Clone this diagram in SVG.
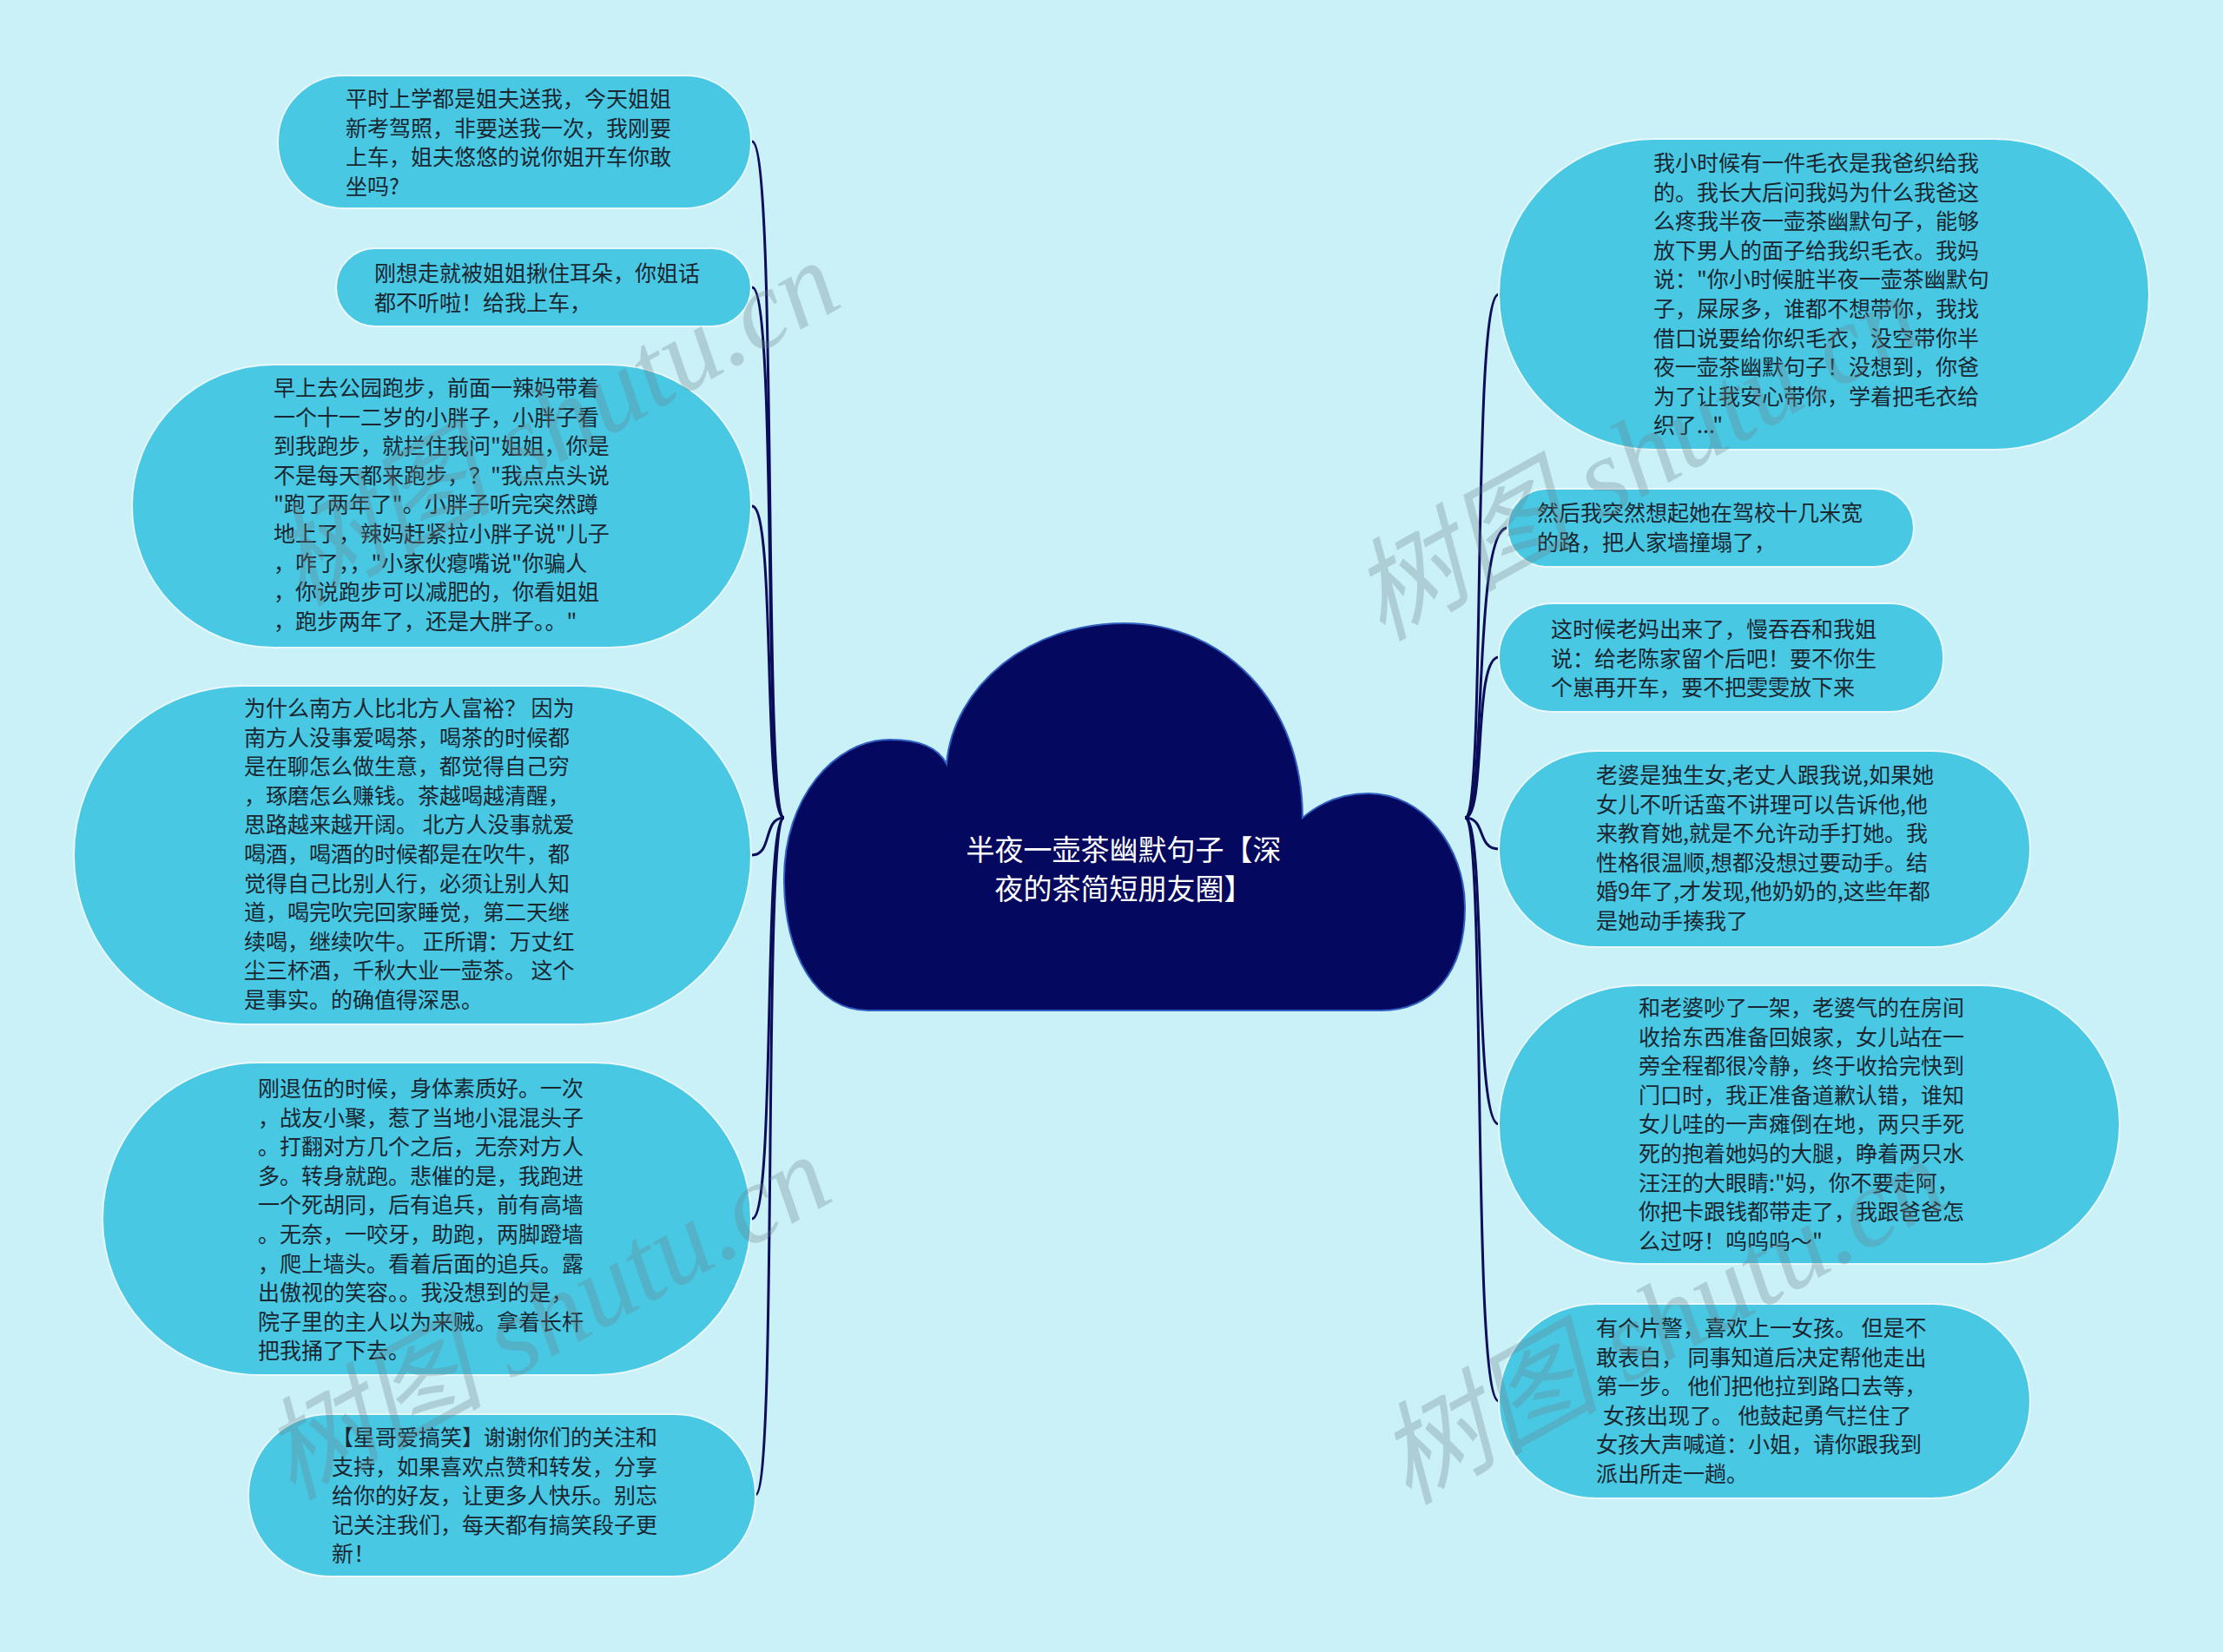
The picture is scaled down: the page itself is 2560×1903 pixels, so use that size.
<svg xmlns="http://www.w3.org/2000/svg" width="2560" height="1903" viewBox="0 0 2560 1903">
<style>
.n{fill:#48c8e3;stroke:#e8f8fc;stroke-width:2}
.t{font-family:"Noto Sans CJK SC","Noto Sans",sans-serif;font-size:25px;fill:#1a2630}
.c{fill:none;stroke:#0b0d5a;stroke-width:3}
.w{font-family:"Liberation Serif","Noto Sans CJK SC",serif;font-size:128px;font-style:italic;fill:#6f8288;opacity:0.3}
</style>
<rect width="2560" height="1903" fill="#caf0f8"/>
<g id="connectors">
<path class="c" d="M903 942 C878 942 896 163 866 163"/>
<path class="c" d="M903 942 C878 942 896 331 866 331"/>
<path class="c" d="M903 942 C878 942 894 583 866 583"/>
<path class="c" d="M903 942 C878 942 890 985 866 985"/>
<path class="c" d="M903 942 C878 942 894 1404 866 1404"/>
<path class="c" d="M903 942 C878 942 896 1722 870 1722"/>
<path class="c" d="M1687 942 C1712 942 1694 339 1726 339"/>
<path class="c" d="M1687 942 C1712 942 1696 608 1736 608"/>
<path class="c" d="M1687 942 C1712 942 1696 757 1726 757"/>
<path class="c" d="M1687 942 C1712 942 1700 978 1726 978"/>
<path class="c" d="M1687 942 C1712 942 1696 1295 1726 1295"/>
<path class="c" d="M1687 942 C1712 942 1694 1614 1726 1614"/>
</g>
<g id="root">
<path d="M1000 1164 C940 1164 903 1100 903 1012 C903 920 960 852 1025 852 C1055 852 1080 860 1090 880 C1098 790 1185 718 1295 718 C1410 718 1500 810 1500 942 C1520 925 1545 914 1576 914 C1638 914 1687 975 1687 1045 C1687 1120 1650 1164 1590 1164 Z" fill="#04085e" stroke="#2f5fc0" stroke-width="2"/>
<text font-family="&quot;Noto Sans CJK SC&quot;,sans-serif" font-size="33" fill="#ffffff" text-anchor="middle"><tspan x="1294" y="991">半夜一壶茶幽默句子【深</tspan><tspan x="1294" y="1036">夜的茶简短朋友圈】</tspan></text>
</g>
<g id="n1"><rect class="n" x="320" y="87" width="545" height="153" rx="76"/>
<text class="t"><tspan x="398" y="123">平时上学都是姐夫送我，今天姐姐</tspan><tspan x="398" dy="33.6">新考驾照，非要送我一次，我刚要</tspan><tspan x="398" dy="33.6">上车，姐夫悠悠的说你姐开车你敢</tspan><tspan x="398" dy="33.6">坐吗?</tspan></text></g>
<g id="n2"><rect class="n" x="387" y="286" width="478" height="90" rx="45"/>
<text class="t"><tspan x="431" y="324">刚想走就被姐姐揪住耳朵，你姐话</tspan><tspan x="431" dy="33.6">都不听啦！给我上车，</tspan></text></g>
<g id="n3"><rect class="n" x="152" y="420" width="713" height="326" rx="163"/>
<text class="t"><tspan x="315" y="456">早上去公园跑步，前面一辣妈带着</tspan><tspan x="315" dy="33.6">一个十一二岁的小胖子，小胖子看</tspan><tspan x="315" dy="33.6">到我跑步，就拦住我问"姐姐，你是</tspan><tspan x="315" dy="33.6">不是每天都来跑步，？"我点点头说</tspan><tspan x="315" dy="33.6">"跑了两年了"。小胖子听完突然蹲</tspan><tspan x="315" dy="33.6">地上了，辣妈赶紧拉小胖子说"儿子</tspan><tspan x="315" dy="33.6">，咋了，，"小家伙瘪嘴说"你骗人</tspan><tspan x="315" dy="33.6">，你说跑步可以减肥的，你看姐姐</tspan><tspan x="315" dy="33.6">，跑步两年了，还是大胖子。。"</tspan></text></g>
<g id="n4"><rect class="n" x="85" y="790" width="780" height="390" rx="195"/>
<text class="t"><tspan x="281" y="825">为什么南方人比北方人富裕？ 因为</tspan><tspan x="281" dy="33.6">南方人没事爱喝茶，喝茶的时候都</tspan><tspan x="281" dy="33.6">是在聊怎么做生意，都觉得自己穷</tspan><tspan x="281" dy="33.6">，琢磨怎么赚钱。茶越喝越清醒，</tspan><tspan x="281" dy="33.6">思路越来越开阔。 北方人没事就爱</tspan><tspan x="281" dy="33.6">喝酒，喝酒的时候都是在吹牛，都</tspan><tspan x="281" dy="33.6">觉得自己比别人行，必须让别人知</tspan><tspan x="281" dy="33.6">道，喝完吹完回家睡觉，第二天继</tspan><tspan x="281" dy="33.6">续喝，继续吹牛。 正所谓：万丈红</tspan><tspan x="281" dy="33.6">尘三杯酒，千秋大业一壶茶。 这个</tspan><tspan x="281" dy="33.6">是事实。的确值得深思。</tspan></text></g>
<g id="n5"><rect class="n" x="118" y="1224" width="747" height="360" rx="180"/>
<text class="t"><tspan x="297" y="1263">刚退伍的时候，身体素质好。一次</tspan><tspan x="297" dy="33.6">，战友小聚，惹了当地小混混头子</tspan><tspan x="297" dy="33.6">。打翻对方几个之后，无奈对方人</tspan><tspan x="297" dy="33.6">多。转身就跑。悲催的是，我跑进</tspan><tspan x="297" dy="33.6">一个死胡同，后有追兵，前有高墙</tspan><tspan x="297" dy="33.6">。无奈，一咬牙，助跑，两脚蹬墙</tspan><tspan x="297" dy="33.6">，爬上墙头。看着后面的追兵。露</tspan><tspan x="297" dy="33.6">出傲视的笑容。。我没想到的是，</tspan><tspan x="297" dy="33.6">院子里的主人以为来贼。拿着长杆</tspan><tspan x="297" dy="33.6">把我捅了下去。</tspan></text></g>
<g id="n6"><rect class="n" x="286" y="1629" width="584" height="187" rx="93"/>
<text class="t"><tspan x="382" y="1665">【星哥爱搞笑】谢谢你们的关注和</tspan><tspan x="382" dy="33.6">支持，如果喜欢点赞和转发，分享</tspan><tspan x="382" dy="33.6">给你的好友，让更多人快乐。别忘</tspan><tspan x="382" dy="33.6">记关注我们，每天都有搞笑段子更</tspan><tspan x="382" dy="33.6">新！</tspan></text></g>
<g id="n7"><rect class="n" x="1726" y="160" width="749" height="358" rx="179"/>
<text class="t"><tspan x="1904" y="197">我小时候有一件毛衣是我爸织给我</tspan><tspan x="1904" dy="33.6">的。我长大后问我妈为什么我爸这</tspan><tspan x="1904" dy="33.6">么疼我半夜一壶茶幽默句子，能够</tspan><tspan x="1904" dy="33.6">放下男人的面子给我织毛衣。我妈</tspan><tspan x="1904" dy="33.6">说："你小时候脏半夜一壶茶幽默句</tspan><tspan x="1904" dy="33.6">子，屎尿多，谁都不想带你，我找</tspan><tspan x="1904" dy="33.6">借口说要给你织毛衣，没空带你半</tspan><tspan x="1904" dy="33.6">夜一壶茶幽默句子！没想到，你爸</tspan><tspan x="1904" dy="33.6">为了让我安心带你，学着把毛衣给</tspan><tspan x="1904" dy="33.6">织了..."</tspan></text></g>
<g id="n8"><rect class="n" x="1736" y="563" width="468" height="90" rx="45"/>
<text class="t"><tspan x="1770" y="600">然后我突然想起她在驾校十几米宽</tspan><tspan x="1770" dy="33.6">的路，把人家墙撞塌了，</tspan></text></g>
<g id="n9"><rect class="n" x="1726" y="695" width="512" height="125" rx="62"/>
<text class="t"><tspan x="1786" y="734">这时候老妈出来了，慢吞吞和我姐</tspan><tspan x="1786" dy="33.6">说：给老陈家留个后吧！要不你生</tspan><tspan x="1786" dy="33.6">个崽再开车，要不把雯雯放下来</tspan></text></g>
<g id="n10"><rect class="n" x="1726" y="865" width="612" height="226" rx="113"/>
<text class="t"><tspan x="1838" y="902">老婆是独生女,老丈人跟我说,如果她</tspan><tspan x="1838" dy="33.6">女儿不听话蛮不讲理可以告诉他,他</tspan><tspan x="1838" dy="33.6">来教育她,就是不允许动手打她。我</tspan><tspan x="1838" dy="33.6">性格很温顺,想都没想过要动手。结</tspan><tspan x="1838" dy="33.6">婚9年了,才发现,他奶奶的,这些年都</tspan><tspan x="1838" dy="33.6">是她动手揍我了</tspan></text></g>
<g id="n11"><rect class="n" x="1726" y="1135" width="715" height="321" rx="160"/>
<text class="t"><tspan x="1887" y="1170">和老婆吵了一架，老婆气的在房间</tspan><tspan x="1887" dy="33.6">收拾东西准备回娘家，女儿站在一</tspan><tspan x="1887" dy="33.6">旁全程都很冷静，终于收拾完快到</tspan><tspan x="1887" dy="33.6">门口时，我正准备道歉认错，谁知</tspan><tspan x="1887" dy="33.6">女儿哇的一声瘫倒在地，两只手死</tspan><tspan x="1887" dy="33.6">死的抱着她妈的大腿，睁着两只水</tspan><tspan x="1887" dy="33.6">汪汪的大眼睛:"妈，你不要走阿，</tspan><tspan x="1887" dy="33.6">你把卡跟钱都带走了，我跟爸爸怎</tspan><tspan x="1887" dy="33.6">么过呀！呜呜呜～"</tspan></text></g>
<g id="n12"><rect class="n" x="1726" y="1502" width="612" height="224" rx="112"/>
<text class="t"><tspan x="1838" y="1539">有个片警，喜欢上一女孩。 但是不</tspan><tspan x="1838" dy="33.6">敢表白， 同事知道后决定帮他走出</tspan><tspan x="1838" dy="33.6">第一步。 他们把他拉到路口去等，</tspan><tspan x="1846" dy="33.6">女孩出现了。 他鼓起勇气拦住了</tspan><tspan x="1838" dy="33.6">女孩大声喊道：小姐，请你跟我到</tspan><tspan x="1838" dy="33.6">派出所走一趟。</tspan></text></g>
<g id="watermarks">
<text class="w" text-anchor="middle" transform="translate(660 525) rotate(-29)">树图 shutu.cn</text>
<text class="w" text-anchor="middle" transform="translate(1905 565) rotate(-29)">树图 shutu.cn</text>
<text class="w" text-anchor="middle" transform="translate(650 1555) rotate(-29)">树图 shutu.cn</text>
<text class="w" text-anchor="middle" transform="translate(1935 1560) rotate(-29)">树图 shutu.cn</text>
</g>
</svg>
